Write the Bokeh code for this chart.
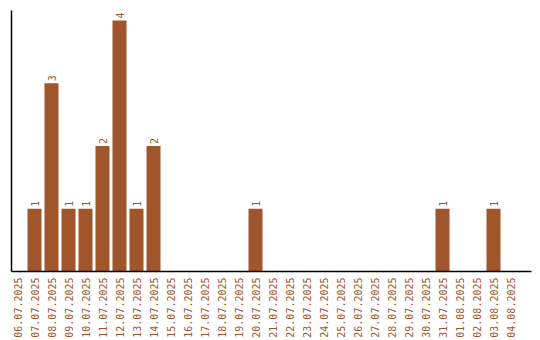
import math
from bokeh.plotting import figure
from bokeh.models import ColumnDataSource, FixedTicker, Range1d
from bokeh.core.properties import value
from bokeh.embed import file_html
from bokeh.resources import INLINE

dates = ["06.07.2025", "07.07.2025", "08.07.2025", "09.07.2025", "10.07.2025",
         "11.07.2025", "12.07.2025", "13.07.2025", "14.07.2025", "15.07.2025",
         "16.07.2025", "17.07.2025", "18.07.2025", "19.07.2025", "20.07.2025",
         "21.07.2025", "22.07.2025", "23.07.2025", "24.07.2025", "25.07.2025",
         "26.07.2025", "27.07.2025", "28.07.2025", "29.07.2025", "30.07.2025",
         "31.07.2025", "01.08.2025", "02.08.2025", "03.08.2025", "04.08.2025"]
counts = [0, 1, 3, 1, 1, 2, 4, 1, 2, 0,
          0, 0, 0, 0, 1, 0, 0, 0, 0, 0,
          0, 0, 0, 0, 0, 1, 0, 0, 1, 0]

COLOR = "#a0552b"
FONT = "DejaVu Sans Mono"

xs = list(range(len(dates)))
src = ColumnDataSource(dict(x=xs, top=counts))
lab_idx = [i for i, c in enumerate(counts) if c > 0]
lab_src = ColumnDataSource(dict(x=[xs[i] for i in lab_idx],
                                y=[counts[i] for i in lab_idx],
                                t=[str(counts[i]) for i in lab_idx]))

p = figure(width=540, height=340, output_backend="svg", toolbar_location=None,
           x_range=Range1d(-0.353, 30.235), y_range=Range1d(0, 4.16),
           min_border_left=11, min_border_right=9, min_border_top=10, min_border_bottom=4)
p.outline_line_color = None
p.xgrid.visible = False
p.ygrid.visible = False
p.background_fill_color = "white"

p.vbar(x="x", top="top", width=14/17, source=src, fill_color=COLOR, line_color=None)
p.text(x="x", y="y", text="t", source=lab_src, angle=math.pi/2,
       text_align="left", text_baseline="middle", y_offset=-2,
       text_font=value(FONT), text_font_size="10px", text_color=COLOR)

p.xaxis.ticker = FixedTicker(ticks=xs)
p.xaxis.major_label_overrides = {i: d for i, d in enumerate(dates)}
p.xaxis.major_label_orientation = math.pi/2
p.xaxis.major_label_text_font = FONT
p.xaxis.major_label_text_font_size = "10px"
p.xaxis.major_label_text_color = COLOR
p.xaxis.major_tick_line_color = None
p.xaxis.minor_tick_line_color = None
p.xaxis.major_tick_out = 0
p.xaxis.minor_tick_out = 0
p.xaxis.major_label_standoff = 6
p.xaxis.axis_line_color = "black"
p.xaxis.axis_line_width = 1.5

p.yaxis.ticker = FixedTicker(ticks=[])
p.yaxis.major_tick_line_color = None
p.yaxis.minor_tick_line_color = None
p.yaxis.major_tick_out = 0
p.yaxis.minor_tick_out = 0
p.yaxis.major_label_text_font_size = "0px"
p.yaxis.major_label_standoff = 0
p.yaxis.axis_line_color = "black"
p.yaxis.axis_line_width = 1.5

open("out.html", "w").write(file_html(p, INLINE))
